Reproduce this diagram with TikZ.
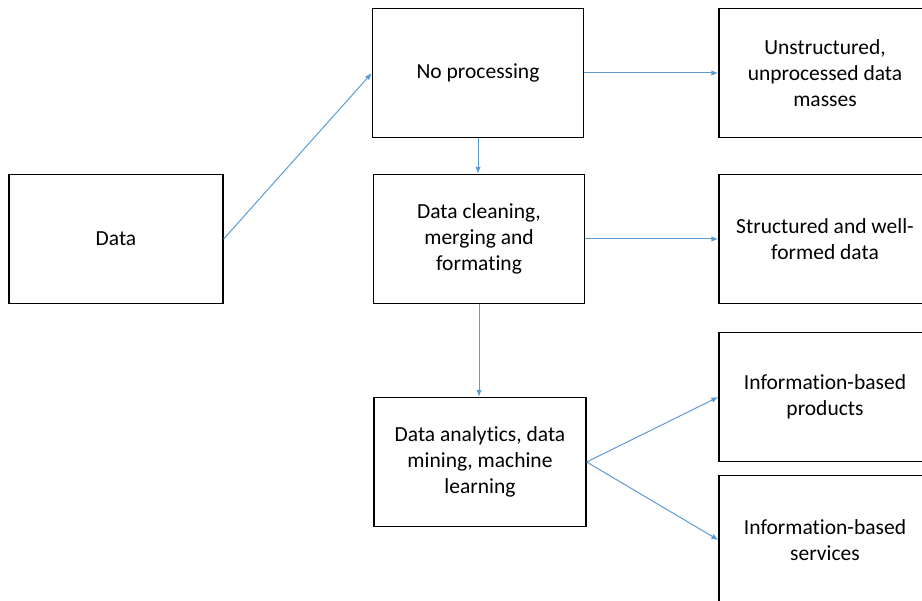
\documentclass[tikz,border=0pt]{standalone}
\usepackage{fontspec}
\setmainfont{Carlito}[Ligatures=NoCommon]
\usetikzlibrary{arrows.meta}
\definecolor{linkblue}{HTML}{5B9BD5}
\tikzset{
  stage/.style={draw=black, line width=1.3pt, fill=white, minimum width=212pt,
    minimum height=129pt, inner sep=0pt, align=center,
    font=\fontsize{21.5pt}{26pt}\selectfont},
  link/.style={draw=linkblue, line width=1pt,
    -{Latex[length=7pt,width=5.5pt]}}
}
\begin{document}
\begin{tikzpicture}[x=1pt, y=-1pt]
  \useasboundingbox (0,0) rectangle (922,601);
  \clip (0,0) rectangle (922,601);
  % left column
  \node[stage, minimum width=214pt] (data) at (116,239) {Data};
  % middle column
  \node[stage, minimum width=211pt] (noproc) at (478,73) {No processing};
  \node[stage, minimum width=211pt] (clean) at (479,239) {Data cleaning,\\merging and\\formating};
  \node[stage] (anal) at (480,462) {Data analytics, data\\mining, machine\\learning};
  % right column (runs past the right edge)
  \node[stage] (unstr) at (825,73) {Unstructured,\\unprocessed data\\masses};
  \node[stage] (struct) at (825,239) {Structured and well-\\formed data};
  \node[stage] (prod) at (825,397) {Information-based\\products};
  \node[stage] (serv) at (825,540) {Information-based\\services};
  % connectors
  \draw[link] (data.east) -- (noproc.west);
  \draw[link] (noproc.south) -- (noproc.south |- clean.north);
  \draw[link] (noproc.east) -- (unstr.west);
  \draw[link] (clean.east) -- (clean.east -| struct.west);
  \draw[link] (clean.south) -- (clean.south |- anal.north);
  \draw[link] (anal.east) -- (prod.west);
  \draw[link] (anal.east) -- (serv.west);
\end{tikzpicture}
\end{document}
